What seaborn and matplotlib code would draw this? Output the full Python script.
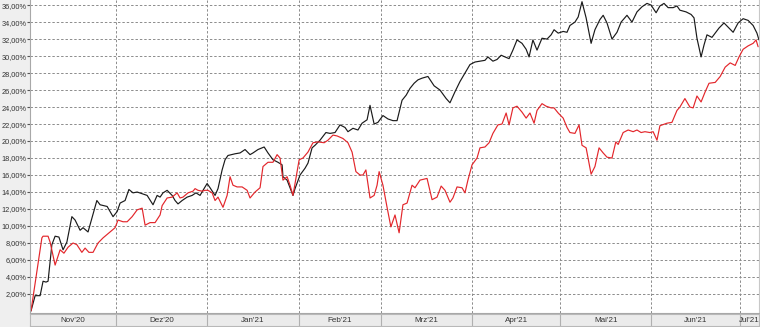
import matplotlib
matplotlib.use("Agg")
import matplotlib.pyplot as plt
import seaborn as sns
import pandas as pd
import numpy as np
from matplotlib.ticker import FuncFormatter

# ---------------- data ----------------
start_date = "2020-11-02"
# days since start_date
black_days = [0.0, 1.4, 3.1, 4.1, 5.1, 5.8, 7.1, 8.2, 9.5, 10.9, 12.2, 13.9, 15.0, 16.7, 17.7, 19.4,
              22.4, 23.5, 25.9, 27.9, 29.3, 30.3, 32.0, 33.3, 34.7, 36.1, 37.8, 39.5, 41.5, 42.9,
              43.9, 44.9, 46.3, 48.0, 49.0, 50.0, 51.4, 53.1, 54.8, 56.1, 57.5, 58.5, 59.9, 60.9,
              62.6, 63.6, 65.0, 66.0, 67.0, 69.4, 71.1, 72.8, 74.5, 75.5, 77.2, 79.3, 80.6, 82.3,
              84.0, 85.4, 85.7, 87.1, 89.1, 89.8, 91.5, 93.2, 94.2, 95.6, 96.6, 98.3, 100.3, 101.7,
              103.4, 105.1, 106.8, 107.8, 109.5, 111.2, 112.6, 114.3, 115.3, 116.7, 118.0, 119.7,
              121.4, 123.1, 124.5, 126.2, 127.6, 128.9, 130.3, 131.6, 133.0, 135.0, 137.1, 139.1,
              141.2, 142.5, 144.2, 145.9, 147.6, 149.3, 151.0, 152.7, 154.4, 155.4, 157.1, 158.5,
              159.9, 161.2, 162.6, 163.9, 165.3, 167.0, 168.4, 169.4, 170.7, 172.1, 173.8, 175.5,
              176.9, 177.9, 179.3, 181.0, 182.3, 183.3, 185.0, 186.1, 187.4, 188.8, 190.5, 191.8,
              193.5, 194.6, 195.9, 197.6, 199.3, 200.7, 202.7, 204.4, 206.1, 207.8, 209.5, 210.9,
              212.6, 213.9, 215.3, 216.7, 218.4, 219.7, 220.7, 222.8, 224.5, 225.5, 226.5, 227.9,
              228.9, 229.9, 231.6, 232.7, 234.0, 235.7, 237.1, 238.8, 240.5, 242.2, 243.9, 245.6,
              246.9, 247.6]
black_vals = [0.0, 1.8, 1.8, 3.5, 3.4, 3.5, 7.8, 8.8, 8.7, 7.2, 8.1, 11.1, 10.7, 9.5, 9.8, 9.3,
              13.0, 12.5, 12.3, 11.1, 11.7, 12.7, 13.0, 14.3, 13.9, 14.0, 13.8, 13.6, 12.5, 13.6,
              13.4, 13.9, 14.2, 13.6, 13.0, 12.6, 13.0, 13.4, 13.6, 13.9, 13.6, 14.2, 15.0, 14.5,
              13.6, 14.4, 16.6, 17.8, 18.3, 18.5, 18.6, 19.0, 18.4, 18.6, 19.0, 19.3, 18.6, 17.8,
              17.5, 17.2, 15.8, 15.4, 13.6, 14.4, 16.0, 16.8, 17.4, 19.2, 19.5, 20.1, 21.0, 20.9,
              21.0, 21.9, 21.6, 21.1, 21.5, 21.3, 22.1, 22.5, 24.2, 22.0, 22.2, 23.0,
              22.6, 22.4, 22.4, 24.8, 25.4, 26.2, 26.8, 27.2, 27.4, 27.6, 26.5, 26.0,
              25.0, 24.5, 25.8, 27.0, 28.0, 29.0, 29.3, 29.4, 29.5, 29.9, 29.4, 29.6,
              30.1, 29.9, 29.7, 30.7, 31.9, 31.5, 30.8, 29.9, 31.9, 30.7, 32.1, 32.0,
              32.5, 33.1, 32.7, 32.9, 32.8, 33.6, 34.0, 34.6, 36.4, 34.5, 31.5, 33.1,
              34.3, 34.8, 33.9, 32.0, 32.8, 34.0, 34.8, 34.0, 35.2, 35.8, 36.2, 36.0,
              35.1, 35.9, 36.2, 35.7, 35.7, 35.9, 35.4, 35.2, 34.9, 34.5, 32.1, 29.9,
              31.3, 32.5, 32.2, 32.7, 33.3, 33.9, 33.4, 32.8, 33.9, 34.4, 34.2, 33.6,
              32.7, 31.9]

red_days = [0.0, 3.7, 4.1, 5.8, 6.5, 8.2, 9.9, 11.2, 12.6, 14.3, 15.6, 17.3, 18.4, 19.7, 21.1,
            22.8, 24.5, 26.9, 28.6, 29.6, 31.3, 32.7, 34.4, 36.1, 37.8, 38.8, 40.5, 42.2, 43.9,
            44.6, 46.3, 48.0, 49.7, 50.7, 51.7, 53.4, 55.1, 55.8, 56.8, 58.2, 59.2, 60.2, 61.6,
            62.6, 63.6, 65.3, 66.7, 67.7, 68.7, 70.1, 71.8, 73.5, 74.5, 76.2, 77.9, 78.9, 80.6,
            82.3, 83.7, 84.7, 85.7, 87.1, 88.1, 89.1, 89.8, 91.2, 92.5, 94.2, 95.9, 97.6, 99.7,
            101.0, 102.7, 104.1, 106.1, 107.8, 109.2, 110.5, 111.9, 112.9, 113.9, 115.3, 116.7,
            117.7, 118.4, 119.7, 121.1, 122.4, 123.8, 125.2, 126.5, 127.9, 129.6, 130.6, 132.3,
            134.7, 136.4, 138.1, 139.5, 140.8, 142.5, 143.5, 144.9, 146.6, 147.6, 148.6, 150.0,
            151.7, 152.7, 154.4, 155.8, 157.1, 158.8, 160.2, 161.6, 162.6, 163.9, 165.3, 167.0,
            168.4, 169.7, 171.1, 172.1, 173.8, 175.2, 176.9, 177.9, 179.3, 181.0, 182.3, 183.3,
            185.0, 186.4, 187.4, 188.8, 190.5, 191.8, 193.2, 194.6, 195.9, 197.6, 198.9, 199.7,
            201.4, 203.1, 204.8, 206.1, 207.5, 208.8, 210.5, 211.6, 212.9, 213.9, 216.3, 218.0,
            219.7, 220.7, 222.4, 224.1, 225.2, 226.5, 227.9, 229.3, 230.6, 232.7, 234.4, 236.1,
            237.8, 239.5, 240.8, 242.2, 243.9, 245.6, 246.6, 247.3]
red_vals = [0.0, 8.6, 8.8, 8.8, 8.1, 5.4, 7.2, 6.8, 7.5, 8.0, 7.8, 6.9, 7.4, 6.9, 6.9,
            8.0, 8.6, 9.3, 9.8, 10.7, 10.5, 10.5, 11.1, 11.9, 12.1, 10.1, 10.4, 10.4, 11.3,
            12.4, 13.3, 13.4, 13.9, 13.3, 13.4, 13.9, 14.1, 14.4, 14.2, 14.1, 14.2, 14.2, 13.9,
            13.0, 13.4, 12.2, 13.6, 15.8, 14.8, 14.6, 14.6, 14.2, 13.3, 14.0, 14.5, 17.0, 17.5,
            17.5, 18.4, 18.0, 15.4, 15.8, 14.8, 13.6, 15.0, 17.8, 18.0, 18.7, 19.8, 19.9, 19.8,
            20.1, 20.7, 20.6, 20.3, 19.8, 18.7, 16.4, 16.0, 16.0, 16.6, 13.3, 13.6,
            14.8, 16.4, 14.8, 12.2, 9.9, 11.3, 9.2, 12.5, 12.7, 14.8, 14.5, 15.4,
            15.6, 13.1, 13.4, 14.7, 14.2, 12.8, 13.3, 14.6, 14.5, 13.9, 15.4, 17.2,
            18.0, 19.2, 19.3, 19.8, 20.9, 21.9, 22.0, 23.3, 21.9, 23.9, 24.1, 23.4,
            22.7, 23.3, 22.1, 23.6, 24.4, 24.1, 23.9, 23.9, 23.3, 22.7, 21.6, 21.0,
            20.9, 21.9, 19.5, 19.2, 16.1, 17.0, 19.2, 18.6, 18.1, 18.0, 19.9, 19.6,
            21.0, 21.3, 21.1, 21.3, 21.0, 21.1, 21.0, 21.1, 20.1, 21.8, 22.1, 22.2,
            23.6, 24.0, 25.0, 24.0, 23.9, 25.3, 24.6, 25.8, 26.8, 26.9, 27.6, 28.7,
            29.2, 28.9, 29.9, 30.8, 31.2, 31.5, 31.9, 31.1]

month_labels = ["Nov'20", "Dez'20", "Jan'21", "Feb'21", "Mrz'21", "Apr'21", "Mai'21", "Jun'21", "Jul'21"]
month_starts = ["2020-12-01", "2021-01-01", "2021-02-01", "2021-03-01", "2021-04-01",
                "2021-05-01", "2021-06-01", "2021-07-01"]
y_ticks = [2, 4, 6, 8, 10, 12, 14, 16, 18, 20, 22, 24, 26, 28, 30, 32, 34, 36]

# ---------------- build frame ----------------
t0 = pd.Timestamp(start_date)
df = pd.concat([
    pd.DataFrame({"date": t0 + pd.to_timedelta(black_days, unit="D"), "value": black_vals, "series": "A"}),
    pd.DataFrame({"date": t0 + pd.to_timedelta(red_days, unit="D"), "value": red_vals, "series": "B"}),
], ignore_index=True)

sns.set_theme(style="white")
plt.rcParams["font.family"] = ["Liberation Sans", "DejaVu Sans"]

W, H = 760, 327
fig = plt.figure(figsize=(W / 100, H / 100), dpi=100)
fig.patch.set_facecolor("#EFEFEF")

ax_left, ax_right, ax_top, ax_bot = 30, 759, 0, 312.5
ax = fig.add_axes([ax_left / W, 1 - ax_bot / H, (ax_right - ax_left) / W, (ax_bot - ax_top) / H])
ax.set_facecolor("white")

sns.lineplot(data=df, x="date", y="value", hue="series", palette={"A": "#1a1a1a", "B": "#E3262B"},
             linewidth=0.85, ax=ax, legend=False, estimator=None, sort=False)

x0 = t0 + pd.Timedelta(days=-0.34)
x1 = t0 + pd.Timedelta(days=247.6)
ax.set_xlim(x0, x1)
ax.set_ylim(-0.18, 36.6)

ax.set_yticks(y_ticks)
ax.yaxis.set_major_formatter(FuncFormatter(lambda v, p: f"{v:.2f}%".replace(".", ",")))
ax.tick_params(axis="y", direction="out", length=2.0, width=0.8, color="#555555",
               labelsize=5.3, labelcolor="#333333", pad=0.4, left=True)
ax.set_xticks([pd.Timestamp(m) for m in month_starts])
ax.tick_params(axis="x", bottom=False, labelbottom=False)
ax.set_xlabel("")
ax.set_ylabel("")

ax.grid(True, which="major", axis="both", color="#8C8C8C", linestyle=(0, (2.5, 2)), linewidth=0.7)
ax.spines["top"].set_visible(False)
ax.spines["left"].set_color("#A8A8A8")
ax.spines["right"].set_color("#C8C8C8")
ax.spines["bottom"].set_color("#A8A8A8")
for s in ax.spines.values():
    s.set_linewidth(0.8)

# bottom month band
band = fig.add_axes([ax_left / W, 1 / H, (ax_right - ax_left) / W, 12.5 / H], sharex=ax)
band.set_facecolor("#EBEBEB")
band.set_ylim(0, 1)
band.set_yticks([])
band.tick_params(axis="x", bottom=False, labelbottom=False)
band.set_xlabel("")
for s in band.spines.values():
    s.set_color("#B8B8B8")
    s.set_linewidth(0.8)
bounds = [x0] + [pd.Timestamp(m) for m in month_starts] + [x1]
for b in bounds[1:-1]:
    band.axvline(b, color="#B0B0B0", linewidth=0.8)
for lab, a, b in zip(month_labels, bounds[:-1], bounds[1:]):
    band.text(a + (b - a) / 2, 0.45, lab, ha="center", va="center", fontsize=5.8, color="#333333")

fig.savefig("out.png", dpi=100, facecolor=fig.get_facecolor())
